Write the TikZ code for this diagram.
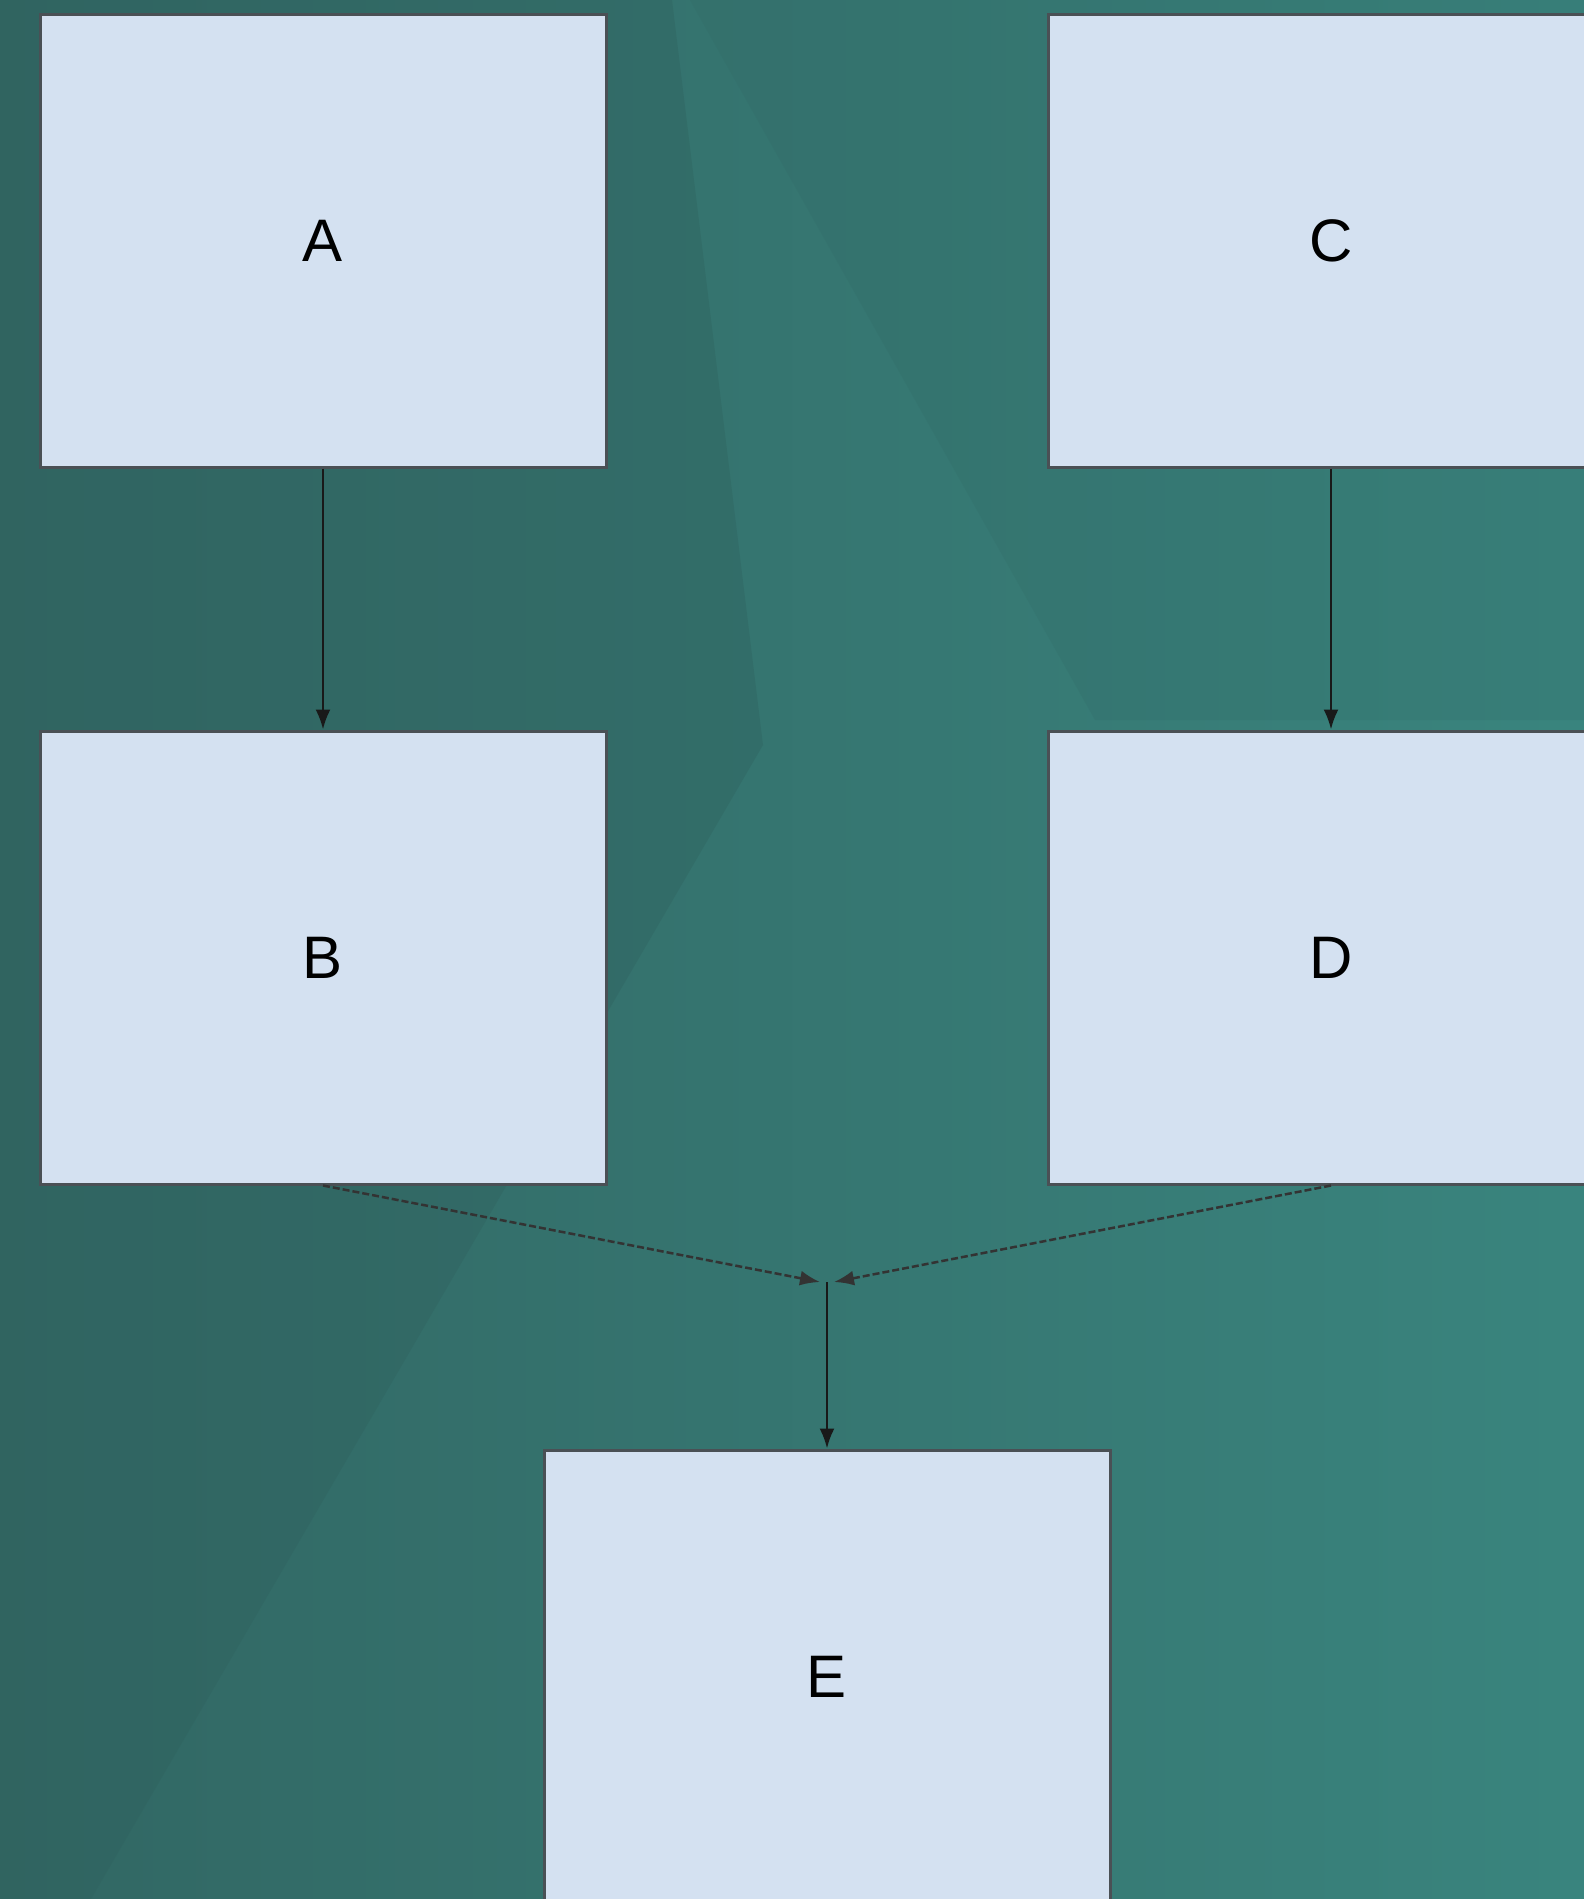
\documentclass[tikz,border=0pt]{standalone}
\usepackage{fontspec}
\setmainfont{Liberation Sans}
\usetikzlibrary{arrows.meta}
\definecolor{bgdark}{HTML}{30615E}
\definecolor{bgmid}{HTML}{377471}
\definecolor{bglight}{HTML}{3B8A83}
\definecolor{chev}{HTML}{2F605D}
\definecolor{boxfill}{HTML}{D4E1F1}
\definecolor{boxline}{HTML}{4A5055}
\tikzset{
  stepbox/.style={draw=boxline, line width=3pt, fill=boxfill, minimum width=566pt, minimum height=453pt, inner sep=0pt, font=\fontsize{60}{72}\selectfont},
  flow/.style={draw=black!90, line width=2.5pt, -{Latex[length=20pt,width=15pt]}},
  merge/.style={draw=black!80, line width=2.5pt, dash pattern=on 7pt off 3pt, -{Latex[length=20pt,width=15pt]}}
}
\begin{document}
\begin{tikzpicture}[x=1pt,y=-1pt]
\useasboundingbox (0,0) rectangle (1584,1899);
\begin{scope}
\clip (0,0) rectangle (1584,1899);
% background
\shade[shading angle=135, left color=bgdark, right color=bglight] (-300,-300) rectangle (1884,2199);
\fill[chev, opacity=0.35] (0,0) -- (672,0) -- (763,745) -- (91,1899) -- (0,1899) -- cycle;
\fill[chev, opacity=0.15] (690,0) -- (1584,0) -- (1584,720) -- (1095,720) -- cycle;
\end{scope}
% boxes
\node[stepbox] (A) at (323,240.5) {A};
\node[stepbox] (B) at (323,957.5) {B};
\node[stepbox] (C) at (1331,240.5) {C};
\node[stepbox] (D) at (1331,957.5) {D};
\node[stepbox] (E) at (827,1676.5) {E};
% junction
\coordinate (J) at (827,1282);
\coordinate (JL) at (820,1282);
\coordinate (JR) at (834,1282);
% connectors
\draw[flow] (A.south) -- (B.north);
\draw[flow] (C.south) -- (D.north);
\draw[merge] (B.south) -- (JL);
\draw[merge] (D.south) -- (JR);
\draw[flow] (J) -- (E.north);
\end{tikzpicture}
\end{document}
